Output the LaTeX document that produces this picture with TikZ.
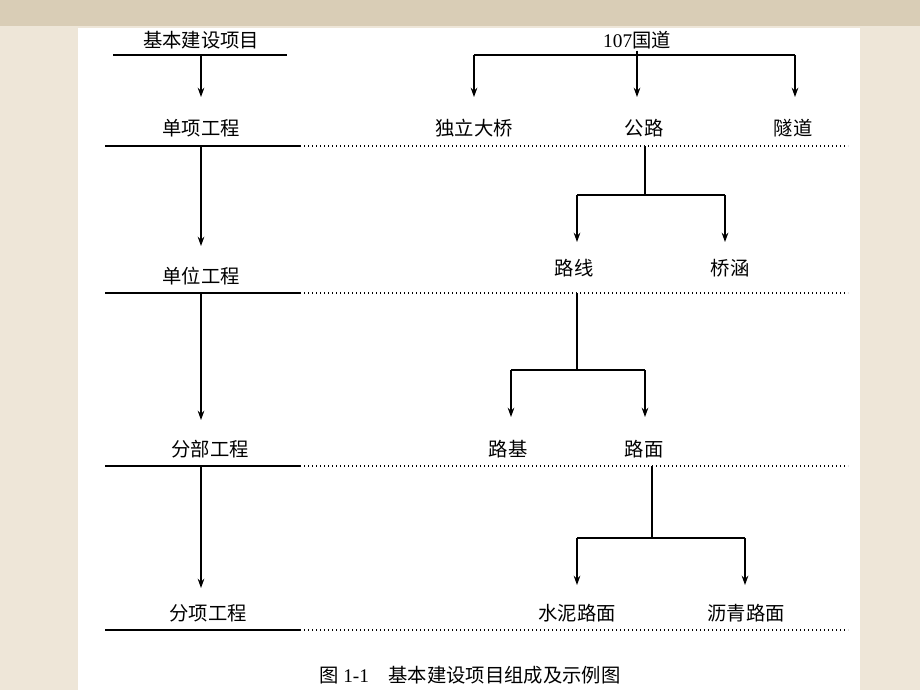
\documentclass[tikz,border=0pt]{standalone}
\usepackage{fontspec}
\newfontfamily\cjk{Noto Sans CJK SC}
\newfontfamily\lat{Liberation Serif}
\usetikzlibrary{arrows.meta}
\definecolor{bg}{HTML}{EEE6D8}
\definecolor{band}{HTML}{D9CDB6}
\tikzset{
 lbl/.style={font=\cjk\fontsize{14.5}{16}\selectfont, inner sep=1pt},
 arr/.style={-{Stealth[length=7pt,width=5pt]}, line width=0.8pt},
 ln/.style={line width=0.8pt},
 rule/.style={line width=1pt},
 dotrule/.style={line width=1pt, dash pattern=on 1pt off 2pt}
}
\begin{document}
\begin{tikzpicture}[x=0.75pt,y=-0.75pt]
\useasboundingbox (0,0) rectangle (920,690);
\fill[bg] (0,0) rectangle (920,690);
\fill[band] (0,0) rectangle (920,26);
\fill[white] (78,28) rectangle (860,690);
% left column
\node[lbl] (a0) at (201,40) {基本建设项目};
\draw[ln] (113,55) -- (287,55);
\coordinate (a0b) at (201,55);
\node[lbl] (a1) at (201,128) {单项工程};
\node[lbl] (a2) at (201,276) {单位工程};
\node[lbl] (a3) at (210,449) {分部工程};
\node[lbl] (a4) at (208,613) {分项工程};
\foreach \y in {146,293,466,630}{
 \draw[rule] (105,\y) -- (300,\y);
 \draw[dotrule] (300,\y) -- (848,\y);
}
\coordinate (l1) at (201,146);
\coordinate (l2) at (201,293);
\coordinate (l3) at (201,466);
\draw[arr] (a0b) -- (201,97);
\draw[arr] (l1) -- (201,246);
\draw[arr] (l2) -- (201,420);
\draw[arr] (l3) -- (201,588);
% right tree
\node[lbl] (r0) at (637,40) {{\lat 107}国道};
\node[lbl] (r1) at (474,128) {独立大桥};
\node[lbl] (r2) at (644,128) {公路};
\node[lbl] (r3) at (793,128) {隧道};
\draw[ln] (r0.south) -- (637,55);
\draw[ln] (474,55) -- (795,55);
\draw[arr] (474,55) -- (474,97);
\draw[arr] (637,55) -- (637,97);
\draw[arr] (795,55) -- (795,97);
\node[lbl] (s1) at (574,268) {路线};
\node[lbl] (s2) at (730,268) {桥涵};
\draw[ln] (645,146) -- (645,195);
\draw[ln] (577,195) -- (725,195);
\draw[arr] (577,195) -- (577,242);
\draw[arr] (725,195) -- (725,242);
\node[lbl] (t1) at (508,449) {路基};
\node[lbl] (t2) at (644,449) {路面};
\draw[ln] (577,293) -- (577,370);
\draw[ln] (511,370) -- (645,370);
\draw[arr] (511,370) -- (511,417);
\draw[arr] (645,370) -- (645,417);
\node[lbl] (u1) at (577,613) {水泥路面};
\node[lbl] (u2) at (746,613) {沥青路面};
\draw[ln] (652,466) -- (652,538);
\draw[ln] (577,538) -- (745,538);
\draw[arr] (577,538) -- (577,585);
\draw[arr] (745,538) -- (745,585);
\node[lbl] (cap) at (470,675) {图 {\lat 1-1}\quad 基本建设项目组成及示例图};
\end{tikzpicture}
\end{document}
